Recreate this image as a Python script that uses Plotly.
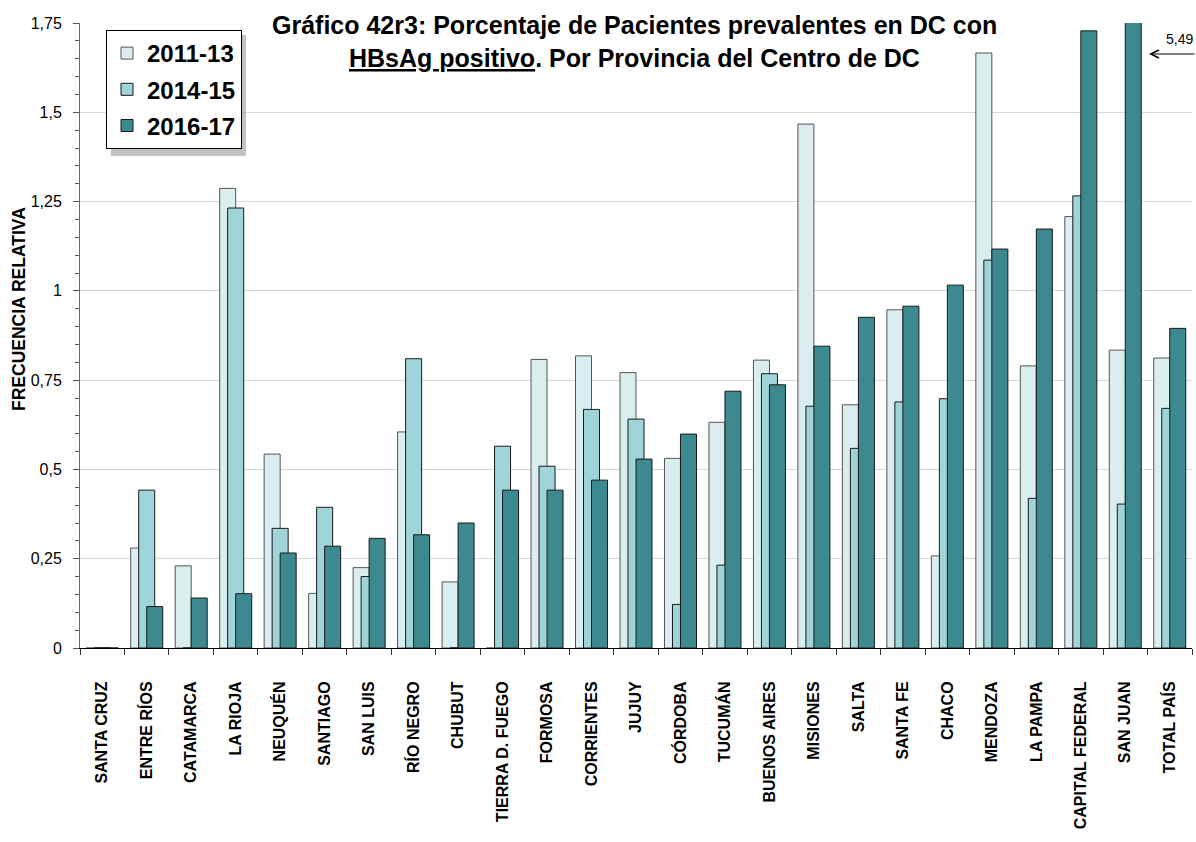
import plotly.graph_objects as go

categories = ["SANTA CRUZ", "ENTRE RÍOS", "CATAMARCA", "LA RIOJA", "NEUQUÉN", "SANTIAGO",
              "SAN LUIS", "RÍO NEGRO", "CHUBUT", "TIERRA D. FUEGO", "FORMOSA", "CORRIENTES",
              "JUJUY", "CÓRDOBA", "TUCUMÁN", "BUENOS AIRES", "MISIONES", "SALTA", "SANTA FE",
              "CHACO", "MENDOZA", "LA PAMPA", "CAPITAL FEDERAL", "SAN JUAN", "TOTAL PAÍS"]

v_2011_13 = [0, 0.280, 0.230, 1.287, 0.543, 0.153, 0.225, 0.605, 0.185, 0, 0.808, 0.818,
             0.771, 0.531, 0.632, 0.806, 1.467, 0.681, 0.947, 0.258, 1.666, 0.790, 1.208,
             0.834, 0.812]
v_2014_15 = [0, 0.442, 0, 1.232, 0.335, 0.394, 0.200, 0.810, 0, 0.565, 0.509, 0.668,
             0.641, 0.122, 0.232, 0.768, 0.677, 0.559, 0.689, 0.698, 1.086, 0.419, 1.266,
             0.403, 0.671]
v_2016_17 = [0, 0.116, 0.140, 0.152, 0.266, 0.285, 0.307, 0.317, 0.350, 0.442, 0.442, 0.470,
             0.529, 0.599, 0.719, 0.737, 0.845, 0.926, 0.957, 1.016, 1.117, 1.173, 1.728,
             5.49, 0.895]

series_names = ["2011-13", "2014-15", "2016-17"]
y_tickvals = [0, 0.25, 0.5, 0.75, 1, 1.25, 1.5, 1.75]
y_ticktext = ["0", "0,25", "0,5", "0,75", "1", "1,25", "1,5", "1,75"]
san_juan_label = "5,49"

W, H = 1196, 842
L, R, T, B = 80, 4, 23, 194
PW, PH = W - L - R, H - T - B


def px_x(p):
    return (p - L) / PW


def px_y(p):
    return (H - B - p) / PH


FONT = "Liberation Sans, Arial, sans-serif"
colors = ["#DAEEF0", "#9FD4D8", "#3C8A90"]
edges = ["#555555", "#1a1a1a", "#1a1a1a"]
offsets = [-0.36, -0.18, 0.0]

fig = go.Figure()
for name, vals, c, e, off in zip(series_names, [v_2011_13, v_2014_15, v_2016_17],
                                 colors, edges, offsets):
    fig.add_trace(go.Bar(
        x=categories, y=vals, name=name, width=0.36, offset=off,
        marker=dict(color=c, line=dict(color=e, width=1)),
        legendgroup=name,
    ))

fig.update_layout(
    width=W, height=H,
    margin=dict(l=L, r=R, t=T, b=B),
    barmode="overlay",
    plot_bgcolor="white", paper_bgcolor="white",
    font=dict(family=FONT, color="black"),
    showlegend=True,
    legend=dict(
        x=px_x(106), y=px_y(30), xanchor="left", yanchor="top",
        bgcolor="white", bordercolor="black", borderwidth=1,
        font=dict(family=FONT, size=24, color="black", weight="bold"),
        tracegroupgap=2, traceorder="grouped",
    ),
    xaxis=dict(
        type="category", range=[-0.5, len(categories) - 0.5],
        tickson="boundaries", ticks="outside", ticklen=6, tickcolor="#333333",
        showline=True, linecolor="black", linewidth=1,
        tickangle=-90, ticklabelstandoff=26,
        tickfont=dict(family=FONT, size=16, color="black", weight="bold"),
        showgrid=False,
    ),
    yaxis=dict(
        range=[0, 1.75], tickvals=y_tickvals, ticktext=y_ticktext,
        ticks="outside", ticklen=6, tickcolor="#555555",
        showline=True, linecolor="#666666", linewidth=1,
        showgrid=True, gridcolor="#D9D9D9", gridwidth=1,
        zeroline=False,
        tickfont=dict(family=FONT, size=16, color="black"),
        ticklabelstandoff=8,
        minor=dict(dtick=0.05, ticks="outside", ticklen=4, tickcolor="#555555", showgrid=False),
    ),
)

# legend shadow
fig.add_shape(type="rect", xref="paper", yref="paper",
              x0=px_x(111), x1=px_x(246), y0=px_y(35), y1=px_y(156),
              fillcolor="#9A9A9A", line=dict(width=0), layer="above", opacity=0.6)

# title
fig.add_annotation(xref="paper", yref="paper", x=px_x(634), y=px_y(25),
                   text="Gráfico 42r3: Porcentaje de Pacientes prevalentes en DC con",
                   showarrow=False, xanchor="center", yanchor="middle",
                   font=dict(family=FONT, size=25, color="black", weight="bold"))
fig.add_annotation(xref="paper", yref="paper", x=px_x(634), y=px_y(58),
                   text="<u>HBsAg positivo</u>. Por Provincia del Centro de DC",
                   showarrow=False, xanchor="center", yanchor="middle",
                   font=dict(family=FONT, size=25, color="black", weight="bold"))

# y axis title
fig.add_annotation(xref="paper", yref="paper", x=px_x(19), y=px_y(309),
                   text="FRECUENCIA RELATIVA", textangle=-90, showarrow=False,
                   xanchor="center", yanchor="middle",
                   font=dict(family=FONT, size=17.5, color="black", weight="bold"))

# off-scale value marker for San Juan
fig.add_annotation(xref="paper", yref="paper", x=px_x(1149), y=px_y(54),
                   ax=48, ay=0, text="", showarrow=True, arrowhead=5,
                   arrowsize=1.6, arrowwidth=1, arrowcolor="black")
fig.add_annotation(xref="paper", yref="paper", x=px_x(1179), y=px_y(39),
                   text=san_juan_label, showarrow=False, xanchor="center", yanchor="middle",
                   font=dict(family=FONT, size=14, color="black"))

fig.write_html("out.html", config={"displayModeBar": False},
               post_script="document.body.style.margin='0px';")
